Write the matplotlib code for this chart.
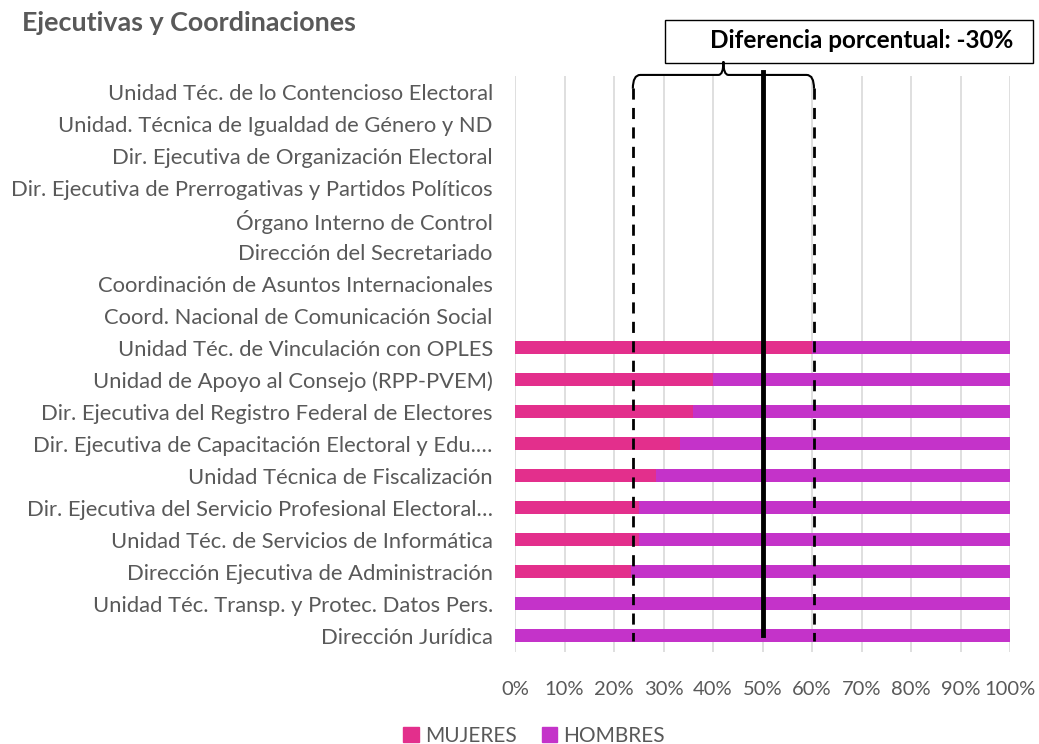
import numpy as np
import matplotlib
matplotlib.use("Agg")
from matplotlib import pyplot as plt
from matplotlib.path import Path
from matplotlib.patches import PathPatch, Patch

plt.rcParams['font.family'] = ['Lato', 'DejaVu Sans']

categories = [
    "Unidad Téc. de lo Contencioso Electoral",
    "Unidad. Técnica de Igualdad de Género y ND",
    "Dir. Ejecutiva de Organización Electoral",
    "Dir. Ejecutiva de Prerrogativas y Partidos Políticos",
    "Órgano Interno de Control",
    "Dirección del Secretariado",
    "Coordinación de Asuntos Internacionales",
    "Coord. Nacional de Comunicación Social",
    "Unidad Téc. de Vinculación con OPLES",
    "Unidad de Apoyo al Consejo (RPP-PVEM)",
    "Dir. Ejecutiva del Registro Federal de Electores",
    "Dir. Ejecutiva de Capacitación Electoral y Edu.…",
    "Unidad Técnica de Fiscalización",
    "Dir. Ejecutiva del Servicio Profesional Electoral…",
    "Unidad Téc. de Servicios de Informática",
    "Dirección Ejecutiva de Administración",
    "Unidad Téc. Transp. y Protec. Datos Pers.",
    "Dirección Jurídica",
]
# porcentaje de mujeres (NaN = sin datos)
mujeres = [np.nan] * 8 + [60.0, 40.0, 36.0, 33.3, 28.5, 25.0, 25.0, 23.5, 0.0, 0.0]
hombres = [np.nan if np.isnan(m) else 100 - m for m in mujeres]

# líneas de referencia
lim_inf = 23.8
lim_sup = 60.4
paridad = 50
etiqueta = "Diferencia porcentual: -30%"

c_muj = "#E32F8C"
c_hom = "#C433C9"
gris = "#595959"

fig = plt.figure(figsize=(10.39, 7.44), dpi=100)
ax = fig.add_axes([0.4957, 0.124, 0.4764, 0.774])

y = np.arange(len(categories))
m = np.nan_to_num(mujeres)
h = np.nan_to_num(hombres)
ax.barh(y, m, height=0.4, color=c_muj, label="MUJERES", zorder=2)
ax.barh(y, h, left=m, height=0.4, color=c_hom, label="HOMBRES", zorder=2)

ax.set_xlim(0, 100)
ax.set_ylim(len(categories) - 0.5, -0.5)
ax.set_xticks(np.arange(0, 101, 10))
ax.set_xticklabels([f"{v}%" for v in range(0, 101, 10)])
ax.set_yticks(y)
ax.set_yticklabels(categories)
ax.tick_params(axis='both', length=0, colors=gris)
ax.tick_params(axis='x', pad=21, labelsize=14.5)
ax.tick_params(axis='y', pad=16, labelsize=15.8)
ax.grid(axis='x', color="#D9D9D9", lw=1.2, zorder=0)
for s in ax.spines.values():
    s.set_visible(False)

# anotaciones
ax.plot([lim_inf, lim_inf], [-0.125, 17.15], color="black", lw=2, ls=(0, (4, 3)), clip_on=False, zorder=4)
ax.plot([lim_sup, lim_sup], [-0.125, 17.15], color="black", lw=2, ls=(0, (4, 3)), clip_on=False, zorder=4)
ax.plot([paridad, paridad], [-0.63, 16.97], color="black", lw=3.5, clip_on=False, zorder=5)

mid = (lim_inf + lim_sup) / 2
verts = [
    (lim_inf, -0.1), (lim_inf, -0.53), (lim_inf + 1.5, -0.53),
    (mid - 1, -0.53), (mid, -0.53), (mid, -0.95),
    (mid, -0.53), (mid + 1, -0.53),
    (lim_sup - 1.5, -0.53), (lim_sup, -0.53), (lim_sup, -0.1),
]
codes = [Path.MOVETO, Path.CURVE3, Path.CURVE3,
         Path.LINETO, Path.CURVE3, Path.CURVE3,
         Path.CURVE3, Path.CURVE3,
         Path.LINETO, Path.CURVE3, Path.CURVE3]
ax.add_patch(PathPatch(Path(verts, codes), fill=False, lw=1.5, ec="black", clip_on=False, zorder=6))

fig.patches.append(plt.Rectangle((665 / 1039, 1 - 63 / 744), 368 / 1039, 43 / 744,
                                 transform=fig.transFigure, fill=False, ec="black", lw=1))
fig.text(862 / 1039, 1 - 41 / 744, etiqueta, ha="center", va="center",
         fontsize=17.5, fontweight="bold", color="black")

fig.text(22 / 1039, 1 - 23 / 744, "Ejecutivas y Coordinaciones", ha="left", va="center",
         fontsize=19.4, fontweight="bold", color=gris)

handles = [Patch(color=c_muj, label="MUJERES"), Patch(color=c_hom, label="HOMBRES")]
fig.legend(handles=handles, loc="center", bbox_to_anchor=(534 / 1039, 1 - 736 / 744), ncol=2,
           frameon=False, fontsize=15, labelcolor=gris, handlelength=0.75, handleheight=0.75,
           handletextpad=0.3, columnspacing=1.2)

fig.savefig("out.png", dpi=100)
